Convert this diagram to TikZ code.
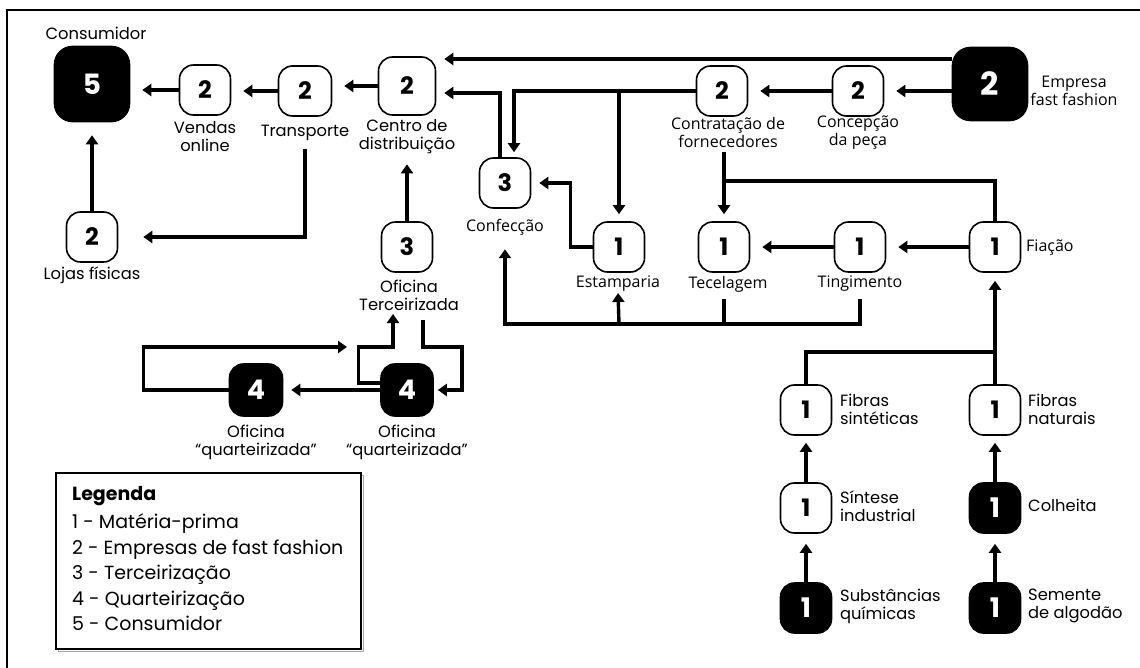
\documentclass[tikz,border=0pt]{standalone}
\usepackage{fontspec}
\setmainfont{Poppins}
\newfontfamily\osans{Open Sans}
\usetikzlibrary{arrows.meta}
\begin{document}
\begin{tikzpicture}[x=1pt,y=-1pt,
  box/.style={draw=black, line width=1.6pt, rounded corners=14pt, minimum width=51pt, minimum height=50pt, inner sep=0pt, font=\fontsize{24}{24}\selectfont\bfseries},
  bbox/.style={box, fill=black, text=white, font=\fontsize{27}{27}\selectfont\bfseries},
  lab/.style={font=\fontsize{16.3}{18}\selectfont, align=center, inner sep=0pt},
  olab/.style={font=\osans\fontsize{16}{18}\selectfont, align=center, inner sep=0pt},
  arr/.style={line width=3.4pt, -{Triangle[width=12pt,length=9pt]}, shorten >=12pt},
  ln/.style={line width=3.4pt},
  legtxt/.style={anchor=base west, inner sep=0pt, font=\fontsize{19}{19}\selectfont},
]
\useasboundingbox (0,0) rectangle (1140,668);
\draw[line width=2pt] (7,668) -- (7,10) -- (1140,10);

% nodes
\node[bbox, minimum width=75pt, minimum height=75pt, rounded corners=18pt, font=\fontsize{28}{28}\selectfont\bfseries] (c5) at (92,84) {5};
\node[lab] (c5lab) at (96,33) {Consumidor};
\node[box] (vend) at (205,90) {2};
\node[lab] (vendlab) at (205,137) {Vendas\\online};
\node[box, minimum width=53pt] (transp) at (305,91) {2};
\node[lab] (transplab) at (305,133) {Transporte};
\node[box, minimum width=57pt, minimum height=58pt] (centro) at (407,86) {2};
\node[lab] (centrolab) at (407,137) {Centro de\\distribuição};
\node[box] (contr) at (722,91) {2};
\node[olab] (contrlab) at (728,133) {Contratação de\\fornecedores};
\node[box] (conc) at (858,91) {2};
\node[olab] (conclab) at (858,133) {Concepção\\da peça};
\node[bbox, minimum width=75pt, minimum height=73pt, rounded corners=18pt, font=\fontsize{32}{32}\selectfont\bfseries] (emp) at (990,84) {2};
\node[olab] (emplab) at (1074,91) {Empresa\\fast fashion};

\node[box] (conf) at (505,183) {3};
\node[olab] (conflab) at (505,227) {Confecção};
\node[box] (estamp) at (619,247) {1};
\node[olab] (estamplab) at (618,284) {Estamparia};
\node[box] (tecel) at (724,247) {1};
\node[olab] (teclab) at (728,284) {Tecelagem};
\node[box] (ting) at (860,247) {1};
\node[olab] (tinglab) at (860,284) {Tingimento};
\node[box] (fiac) at (995,247) {1};
\node[olab, anchor=west] (fiaclab) at (1026,248) {Fiação};

\node[box] (lojas) at (92,237) {2};
\node[lab] (lojaslab) at (92,275) {Lojas físicas};
\node[box] (ofter) at (407,247) {3};
\node[lab] (ofterlab) at (409,295) {Oficina\\Terceirizada};
\node[bbox, minimum width=53pt, minimum height=52pt] (q1) at (256,390) {4};
\node[lab] (q1lab) at (256,442) {Oficina\\“quarteirizada”};
\node[bbox, minimum width=52pt, minimum height=52pt] (q2) at (407,390) {4};
\node[lab] (q2lab) at (407,442) {Oficina\\“quarteirizada”};

\node[box] (fsint) at (806,410) {1};
\node[lab, anchor=west, align=left] (fsintlab) at (840,409) {Fibras\\sintéticas};
\node[box] (fnat) at (995,410) {1};
\node[lab, anchor=west, align=left] (fnatlab) at (1028,409) {Fibras\\naturais};
\node[box] (sint) at (806,508) {1};
\node[lab, anchor=west, align=left] (sintlab) at (840,506) {Síntese\\industrial};
\node[bbox] (colh) at (995,508) {1};
\node[lab, anchor=west] (colhlab) at (1028,505) {Colheita};
\node[bbox] (subst) at (806,608) {1};
\node[lab, anchor=west, align=left] (substlab) at (840,606) {Substâncias\\químicas};
\node[bbox] (sem) at (995,608) {1};
\node[lab, anchor=west, align=left] (semlab) at (1028,606) {Semente\\de algodão};

% legend
\draw[gray!70, line width=1pt] (58.5,475.5) rectangle (363,651);
\node[draw, fill=white, line width=1.5pt, minimum width=305pt, minimum height=176pt, inner sep=0pt] (leg) at (208.5,561) {};
\node[legtxt, font=\fontsize{19}{19}\selectfont\bfseries] (leg0) at (72,500) {Legenda};
\node[legtxt] (leg1) at (72,528.5) {1 - Matéria-prima};
\node[legtxt] (leg2) at (72,554) {2 - Empresas de fast fashion};
\node[legtxt] (leg3) at (72,579.5) {3 - Terceirização};
\node[legtxt] (leg4) at (72,605.5) {4 - Quarteirização};
\node[legtxt] (leg5) at (72,630.5) {5 - Consumidor};

% coordinates
\coordinate (ytop) at (0,59);
\coordinate (y93) at (0,93);
\coordinate (yj) at (0,181);
\coordinate (ybot) at (0,324);
\coordinate (yf) at (0,352);
\coordinate (loopend) at (347,347);
\coordinate (tipA) at (393,314);
\coordinate (tB) at (423,320);

% top row
\draw[arr] (vend.west) -- (vend.west -| c5.east);
\draw[arr] (transp.west) -- (transp.west -| vend.east);
\draw[arr] (centro.west) -- (centro.west -| transp.east);
\draw[arr, shorten >=8pt] (emp.west |- ytop) -- (centro.east |- ytop);
\draw[arr] (conc.west) -- (contr.east);
\draw[arr] (emp.west |- conc.west) -- (conc.east);
\draw[arr, shorten >=5pt] (contr.west) -| ([xshift=9pt]conf.north);
\draw[arr, shorten >=7pt] (contr.west -| estamp.north) -- (estamp.north);
\draw[arr, shorten >=8pt] ([xshift=-5pt]conf.north) |- (centro.east |- y93);

% contratação -> tecelagem, fiação
\coordinate (ct) at ([yshift=-4pt]contrlab.south -| tecel.north);
\draw[arr, shorten >=7pt] (ct) -- (tecel.north);
\draw[ln] (fiac.north) |- (ct |- yj);
\draw[arr, shorten >=8pt] (estamp.west) -- ++(-22,0) |- (conf.east);
\draw[arr] (ting.west) -- (tecel.east);
\draw[arr] (fiac.west) -- (ting.east);

% bottom collector
\draw[arr, shorten >=14pt] ([yshift=-7pt]tinglab.south) |- (conflab.south |- ybot) -- (conflab.south);
\draw[ln] ([yshift=-7pt]teclab.south -| tecel.north) -- (tecel.north |- ybot);
\draw[arr, shorten >=1pt] (estamp.south |- ybot) -- (estamplab.south);

% fibres
\draw[arr, shorten >=8pt] (fnat.north) -- (fiac.south);
\draw[ln] (fsint.north) |- (fnat.north |- yf);
\draw[arr, shorten >=7pt] (sint.north) -- (fsint.south);
\draw[arr, shorten >=10pt] (subst.north) -- (sint.south);
\draw[arr, shorten >=7pt] (colh.north) -- (fnat.south);
\draw[arr, shorten >=10pt] (sem.north) -- (colh.south);

% left side
\draw[arr, shorten >=13pt] (lojas.north) -- (c5.south);
\draw[arr, shorten >=25pt] ([yshift=-8pt]transplab.south) |- (lojas.east);
\draw[arr, shorten >=10pt] (ofter.north) -- (centrolab.south);

% quarteirização
\draw[arr, shorten >=8pt] (q2.west) -- (q1.east);
\draw[arr, shorten >=0pt] (q1.west) -- ++(-85,0) |- (loopend);
\draw[arr, shorten >=0pt] ([yshift=7pt]q2.west) -- ++(-22,0) -- ++(0,-36) -| (tipA);
\draw[arr, shorten >=4pt] (tB) -- ++(0,27) -- ++(39,0) |- (q2.east);
\end{tikzpicture}
\end{document}
